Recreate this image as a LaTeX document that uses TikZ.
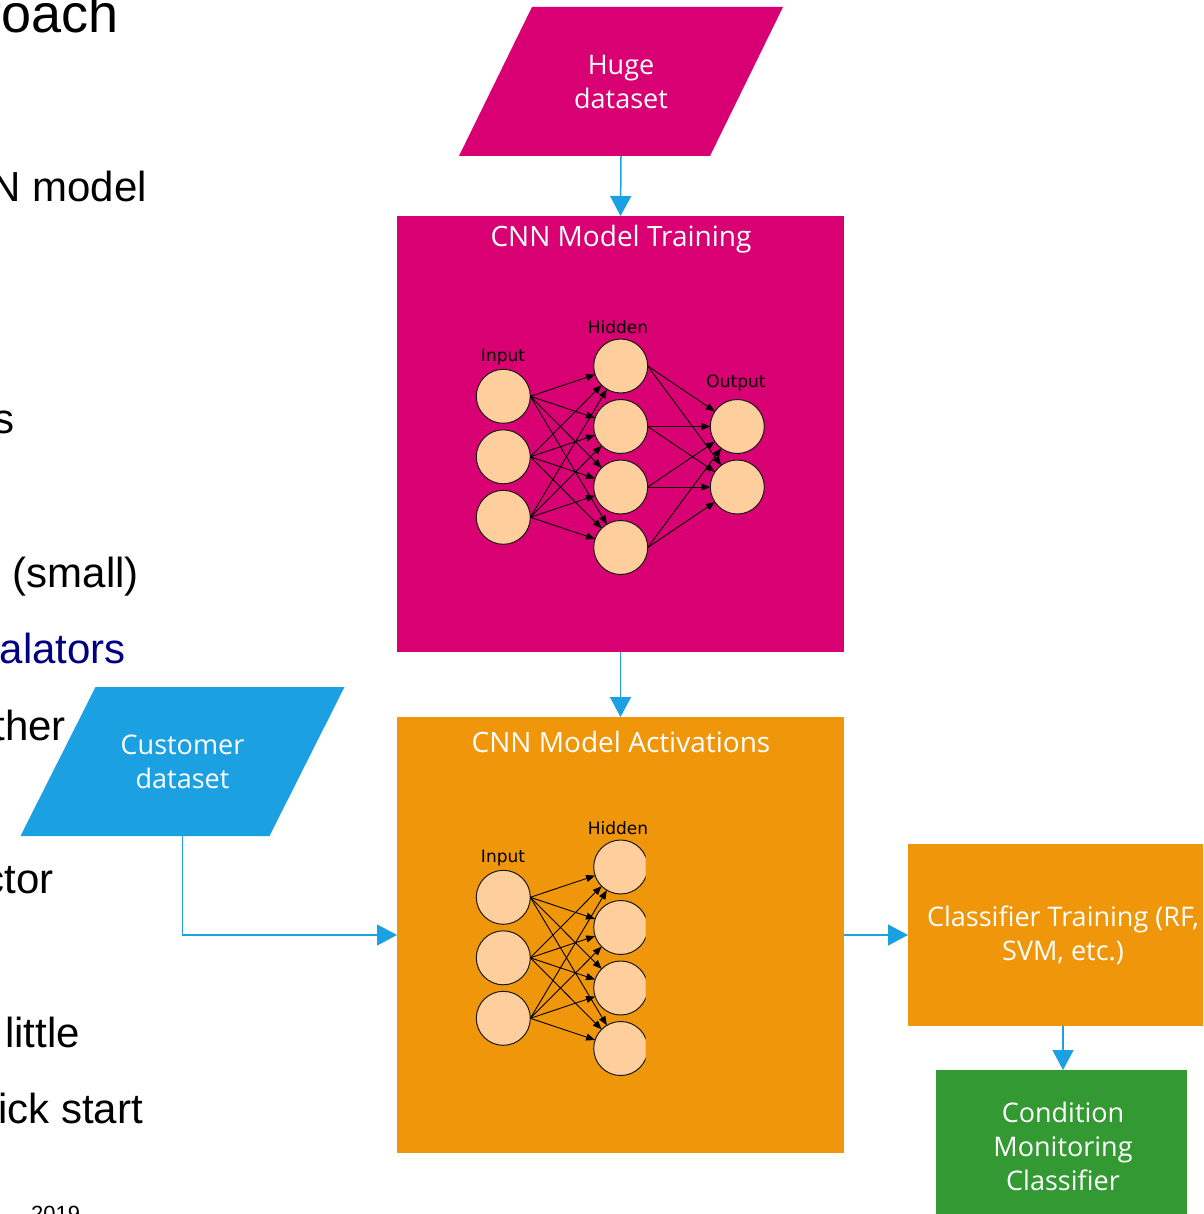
\documentclass[tikz,border=0pt]{standalone}
\usepackage{fontspec}
\setmainfont{Liberation Sans}
\newfontfamily\boxfont{Open Sans}
\newfontfamily\netfont{DejaVu Sans}
\usetikzlibrary{arrows.meta,backgrounds}

\definecolor{metromagenta}{HTML}{D80073}
\definecolor{metrocyan}{HTML}{1BA1E2}
\definecolor{metroorange}{HTML}{F0960A}
\definecolor{metrogreen}{HTML}{339933}
\definecolor{neuronfill}{HTML}{FECF9C}
\definecolor{slidenavy}{HTML}{000080}

\begin{document}
\begin{tikzpicture}[x=1pt,y=-1pt,
  boxtext/.style={text=white, align=center, font=\boxfont\fontsize{27}{34}\selectfont},
  block/.style={boxtext, inner sep=0pt, outer sep=0pt, fill=#1},
  dataset/.style={boxtext, inner sep=0pt, outer sep=0pt, minimum width=324, minimum height=149},
  flow/.style={metrocyan, line width=1.5pt, -{Triangle[length=20pt,width=21pt]}},
  slide/.style={anchor=base east, inner sep=0pt, font=\fontsize{42}{50}\selectfont},
  neuron/.style={circle, draw=black!90, line width=1pt, fill=neuronfill, minimum size=54pt, inner sep=0pt, outer sep=0pt},
  layername/.style={font=\netfont\fontsize{17}{20}\selectfont, inner sep=0pt},
  synapse/.style={black, line width=0.9pt, -{Triangle[length=9pt,width=7pt]}},
  title/.style={boxtext, inner sep=0pt, font=\boxfont\fontsize{28}{34}\selectfont}
]
\useasboundingbox (0,0) rectangle (1203,1214);
\clip (0,0) rectangle (1203,1214);

% ---- slide text on the left ----
\node[slide, font=\fontsize{54}{62}\selectfont] (s0) at (119,33) {Approach};
\node[slide] (s1) at (147,202) {CNN model};
\node[slide] (s2) at (15,433) {s};
\node[slide] (s3) at (139,587) {(small)};
\node[slide, text=slidenavy] (s4) at (126,663) {alators};
\node[slide] (s5) at (66,740) {ther};
\node[slide] (s6) at (54,893) {ctor};
\node[slide] (s7) at (80,1047) {little};
\node[slide] (s8) at (143,1123) {ick start};
\node[anchor=base west, inner sep=0pt, font=\fontsize{22}{26}\selectfont] (s9) at (31,1221) {2019};

% ---- flow chart blocks ----
\node[dataset] (huge) at (621,81.5) {Huge\\dataset};
\node[dataset] (cust) at (182.5,761.5) {Customer\\dataset};
\begin{scope}[on background layer]
  \fill[metromagenta] ([xshift=73pt]huge.north west) -- (huge.north east)
      -- ([xshift=-73pt]huge.south east) -- (huge.south west) -- cycle;
  \fill[metrocyan] ([xshift=75pt]cust.north west) -- (cust.north east)
      -- ([xshift=-75pt]cust.south east) -- (cust.south west) -- cycle;
\end{scope}

\node[block=metromagenta, minimum width=447, minimum height=436] (train) at (620.5,434) {};
\node[title] (traintitle) at (621,239) {CNN Model Training};

\node[block=metroorange, minimum width=447, minimum height=436] (act) at (620.5,935) {};
\node[title] (acttitle) at (621,742) {CNN Model Activations};

\node[block=metroorange, minimum width=310, minimum height=182] (clf) at (1063,935)
  {Classifier Training (RF,\\SVM, etc.)};
\node[block=metrogreen, minimum width=251, minimum height=250] (cond) at (1061.5,1195) {};
\node[boxtext] (condtext) at (1063,1146) {Condition\\Monitoring\\Classifier};

% ---- flow connectors ----
\draw[flow] (huge.south) -- (train.north);
\draw[flow] (train.south) -- (act.north);
\draw[flow] (cust.south) |- (act.west);
\draw[flow] (act.east) -- (clf.west);
\draw[flow] (clf.south) -- (clf.south |- cond.north);

% ---- network inside the training block ----
\foreach \k/\y in {1/396.3, 2/456.8, 3/517.3}
  \node[neuron] (ti\k) at (503.3,\y) {};
\foreach \k/\y in {1/366, 2/426.5, 3/487, 4/547.5}
  \node[neuron] (th\k) at (620.7,\y) {};
\foreach \k/\y in {1/426.5, 2/487}
  \node[neuron] (to\k) at (737.3,\y) {};
\node[layername] (tin) at (503,357) {Input};
\node[layername] (thid) at (618,327) {Hidden};
\node[layername] (tout) at (736,383) {Output};
\foreach \a in {1,2,3}
  \foreach \b in {1,2,3,4}
    \draw[synapse] (ti\a.east) -- (th\b);
\foreach \a in {1,2,3,4}
  \foreach \b in {1,2}
    \draw[synapse] (th\a.east) -- (to\b);

% ---- truncated network inside the activations block ----
\begin{scope}
  \clip (398,718) rectangle (645.5,1152);
  \foreach \k/\y in {1/897.3, 2/957.8, 3/1018.3}
    \node[neuron] (ai\k) at (503.3,\y) {};
  \foreach \k/\y in {1/867, 2/927.5, 3/988, 4/1048.5}
    \node[neuron] (ah\k) at (620.7,\y) {};
  \foreach \a in {1,2,3}
    \foreach \b in {1,2,3,4}
      \draw[synapse] (ai\a.east) -- (ah\b);
\end{scope}
\node[layername] (ain) at (503,858) {Input};
\node[layername] (ahid) at (618,828) {Hidden};
\end{tikzpicture}
\end{document}
